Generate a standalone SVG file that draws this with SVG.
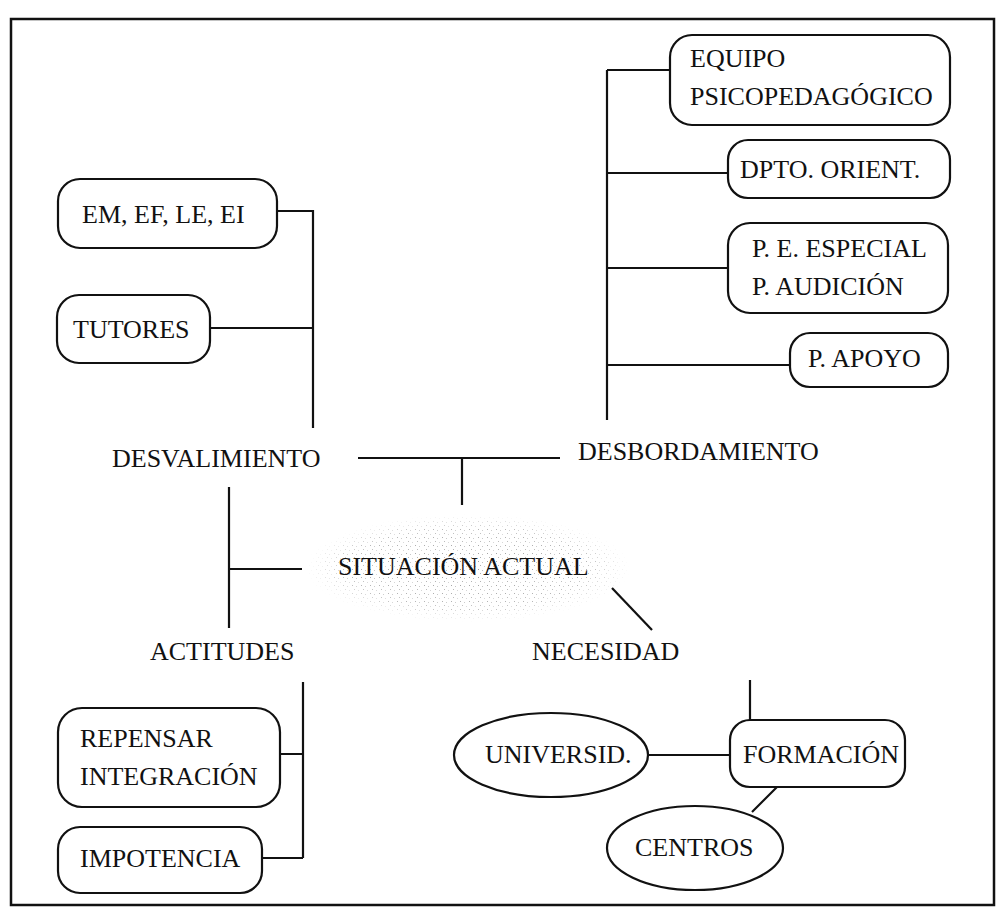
<svg xmlns="http://www.w3.org/2000/svg" width="1007" height="909" viewBox="0 0 1007 909">
<defs>
<style>
text{font-family:'Liberation Serif',serif;font-size:26px;fill:#111;}
.box{fill:#fff;stroke:#111;stroke-width:2.2;}
.ln{stroke:#111;stroke-width:2.2;fill:none;}
</style>
<pattern id="stip" width="9" height="8" patternUnits="userSpaceOnUse">
<rect x="1" y="1" width="1" height="1" fill="#999"/>
<rect x="5" y="2" width="1" height="1" fill="#bbb"/>
<rect x="3" y="5" width="1" height="1" fill="#aaa"/>
<rect x="7" y="6" width="1" height="1" fill="#ccc"/>
</pattern>
<radialGradient id="fade" cx="0.5" cy="0.5" r="0.5">
<stop offset="0" stop-color="#fff" stop-opacity="1"/>
<stop offset="0.75" stop-color="#fff" stop-opacity="0.7"/>
<stop offset="1" stop-color="#fff" stop-opacity="0"/>
</radialGradient>
<mask id="m"><ellipse cx="468" cy="568" rx="162" ry="54" fill="url(#fade)"/></mask>
</defs>
<rect x="0" y="0" width="1007" height="909" fill="#fff"/>
<rect x="11" y="19" width="983" height="886" fill="none" stroke="#111" stroke-width="2.5"/>

<g id="connectors">
<path class="ln" d="M607 70 V420 M607 70 H670 M607 173 H728 M607 268 H728 M607 365 H790"/>
<path class="ln" d="M277 211 H313 V428 M210 328 H313"/>
<path class="ln" d="M358 458 H560 M462 458 V505"/>
<path class="ln" d="M229 487 V628 M229 569 H302"/>
<path class="ln" d="M303 682 V858 M280 754 H303 M262 858 H303"/>
<path class="ln" d="M612 588 L652 630"/>
<path class="ln" d="M750 680 V722 M648 755 H730 M777 787 L752 812"/>
</g>

<g id="equipo">
<rect class="box" x="670" y="35" width="280" height="90" rx="22"/>
<text x="690" y="67" font-family="Liberation Serif">EQUIPO</text>
<text x="690" y="105" font-family="Liberation Serif">PSICOPEDAGÓGICO</text>
</g>
<g id="dpto">
<rect class="box" x="728" y="140" width="222" height="58" rx="20"/>
<text x="740" y="178">DPTO. ORIENT.</text>
</g>
<g id="pespecial">
<rect class="box" x="728" y="223" width="220" height="90" rx="22"/>
<text x="752" y="257">P. E. ESPECIAL</text>
<text x="752" y="295">P. AUDICIÓN</text>
</g>
<g id="papoyo">
<rect class="box" x="790" y="333" width="158" height="54" rx="20"/>
<text x="808" y="367">P. APOYO</text>
</g>
<g id="desbordamiento">
<text x="578" y="460">DESBORDAMIENTO</text>
</g>

<g id="em">
<rect class="box" x="58" y="179" width="219" height="69" rx="22"/>
<text x="82" y="223">EM, EF, LE, EI</text>
</g>
<g id="tutores">
<rect class="box" x="57" y="295" width="153" height="68" rx="22"/>
<text x="73" y="338">TUTORES</text>
</g>
<g id="desvalimiento">
<text x="112" y="467">DESVALIMIENTO</text>
</g>

<g id="situacion">
<ellipse cx="468" cy="568" rx="162" ry="54" fill="url(#stip)" mask="url(#m)"/>
<text x="338" y="575">SITUACIÓN ACTUAL</text>
</g>

<g id="actitudes">
<text x="150" y="660">ACTITUDES</text>
</g>
<g id="repensar">
<rect class="box" x="58" y="708" width="222" height="99" rx="24"/>
<text x="80" y="747">REPENSAR</text>
<text x="80" y="785">INTEGRACIÓN</text>
</g>
<g id="impotencia">
<rect class="box" x="58" y="827" width="204" height="66" rx="22"/>
<text x="80" y="867">IMPOTENCIA</text>
</g>

<g id="necesidad">
<text x="532" y="660">NECESIDAD</text>
</g>
<g id="formacion">
<rect class="box" x="730" y="720" width="175" height="67" rx="20"/>
<text x="743" y="763">FORMACIÓN</text>
</g>
<g id="universid">
<ellipse class="box" cx="551" cy="755" rx="97" ry="42"/>
<text x="485" y="763">UNIVERSID.</text>
</g>
<g id="centros">
<ellipse class="box" cx="695" cy="848" rx="88" ry="42"/>
<text x="635" y="856">CENTROS</text>
</g>
</svg>
